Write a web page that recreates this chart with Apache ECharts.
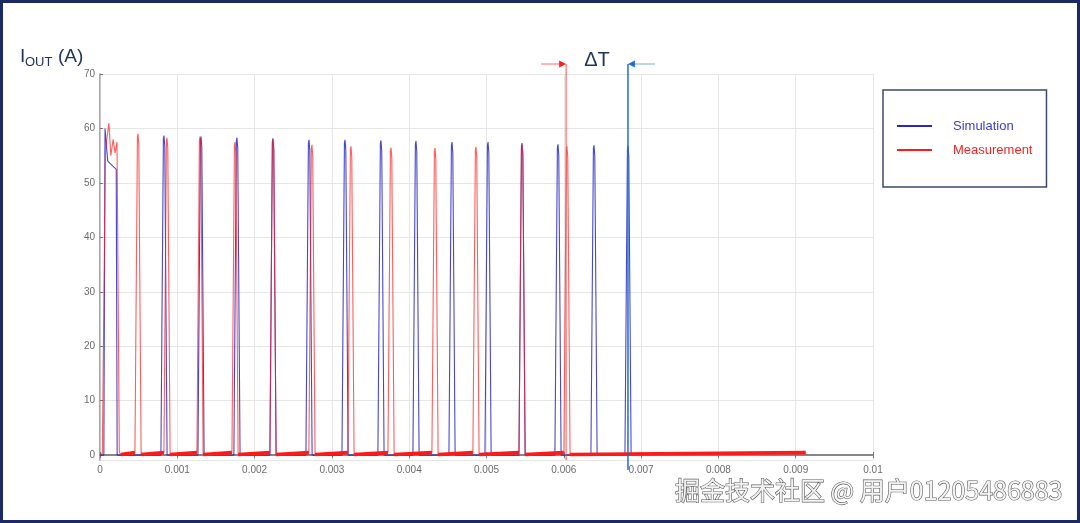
<!DOCTYPE html>
<html><head><meta charset="utf-8">
<script src="https://cdn.jsdelivr.net/npm/echarts@6/dist/echarts.min.js"></script>
<style>html,body{margin:0;padding:0;background:#fff}#c{width:1080px;height:523px}</style>
</head><body><div id="c"></div>
<script>
// ---- data ----
const xTickLabels = ['0','0.001','0.002','0.003','0.004','0.005','0.006','0.007','0.008','0.009','0.01'];
const yTickLabels = ['0','10','20','30','40','50','60','70'];

// start-up transient (time s, current A)
const simStartT = [0, 0.00005, 0.000065, 0.00008, 0.0001, 0.00021, 0.000222, 0.00026];
const simStartI = [0, 0, 60, 60, 54, 52.5, 0, 0];
const measStartT = [0, 0.00003, 0.00007, 0.000115, 0.00014, 0.00017, 0.000195, 0.00022, 0.00025, 0.00027];
const measStartI = [0.2, 0.3, 56, 61, 55, 58, 55.5, 57.5, 0.5, 0.1];

// switching pulses: peak times and peak currents
const simPulseT = [0.000828, 0.001307, 0.001772, 0.002238, 0.002704, 0.003170, 0.003635, 0.004088, 0.004554, 0.005020, 0.005460, 0.005925, 0.006391, 0.006831];
const simPulseI = [58.7, 58.5, 58.3, 58.2, 57.9, 57.9, 57.8, 57.7, 57.5, 57.5, 57.3, 57.1, 56.9, 56.8];
const measPulseT = [0.000492, 0.000867, 0.001294, 0.001747, 0.002238, 0.002742, 0.003247, 0.003765, 0.004334, 0.004864, 0.005460, 0.006041];
const measPulseI = [59.0, 58.3, 58.5, 57.5, 58.0, 57.0, 56.7, 56.5, 56.4, 56.6, 57.0, 56.7];
const measBaseLow = [0.1, 0.45];   // measurement noise floor after / before a pulse
const measEndT = 0.00913;
const measEndI = 0.45;

const deltaTMarks = [0.00603, 0.00683];  // measurement edge, simulation edge

// ---- build series ----
const HW = 0.00004; // pulse half width at base
function pulsePts(t, p, b0, b1) {
  return [[t - HW, b0], [t - HW * 0.2, p - 0.6], [t, p], [t + HW * 0.25, p - 2], [t + HW, b1]];
}
const simData = simStartT.map((t, i) => [t, simStartI[i]]);
simPulseT.forEach((t, i) => simData.push(...pulsePts(t, simPulseI[i], 0, 0)));

const measData = measStartT.map((t, i) => [t, measStartI[i]]);
const measBase = [];
let prevEnd = measStartT[measStartT.length - 1];
measPulseT.forEach((t, i) => {
  measBase.push([prevEnd, measBaseLow[0]], [t - HW, measBaseLow[1]], [null, null]);
  measData.push(...pulsePts(t, measPulseI[i], measBaseLow[1], measBaseLow[0]));
  prevEnd = t + HW;
});
measData.push([measEndT, measEndI]);
measBase.push([prevEnd, measBaseLow[0]], [measEndT, measEndI]);

const BLUE = '#2727c8', RED = '#ff1a1a';
const chart = echarts.init(document.getElementById('c'));
const yFmt = v => { const s = String(Math.round(v)); return (Math.abs(v - Math.round(v)) < 1e-6 && yTickLabels.includes(s)) ? s : ''; };
const xFmt = v => { const k = Math.round(v / 0.001); return Math.abs(v - k * 0.001) < 1e-9 ? (xTickLabels[k] || '') : ''; };
const lblStyle = { color: '#6b6b6b', fontSize: 10, fontFamily: 'Liberation Sans, Arial, sans-serif' };

chart.setOption({
  animation: false,
  backgroundColor: '#fff',
  grid: { left: 100, right: 207, top: 74, bottom: 63 },
  legend: {
    orient: 'vertical', left: 883, top: 90,
    padding: [29, 14, 30, 14], itemGap: 10,
    itemWidth: 35, itemHeight: 2, icon: 'rect',
    borderColor: '#3d4b6b', borderWidth: 1.5, backgroundColor: '#fff',
    textStyle: { fontSize: 13, lineHeight: 14, padding: [0, 0, 0, 16], fontFamily: 'Liberation Sans, Arial, sans-serif' },
    data: [
      { name: 'Simulation', textStyle: { color: '#3d3dcc' } },
      { name: 'Measurement', textStyle: { color: '#f02525' } }
    ]
  },
  xAxis: [
    { type: 'value', min: 0, max: 0.01, interval: 0.001, position: 'bottom',
      axisLine: { lineStyle: { color: '#9a9a9a', width: 1.5 } },
      axisTick: { inside: true, length: 3, lineStyle: { color: '#777' } },
      axisLabel: Object.assign({ formatter: xFmt, margin: 5 }, lblStyle),
      splitLine: { show: true, lineStyle: { color: '#e6e6e6' } } },
    { type: 'value', min: 0, max: 0.01, interval: 0.001, position: 'top',
      axisLine: { show: true, lineStyle: { color: '#7a7a7a', width: 1.5 } },
      axisTick: { show: true, inside: true, length: 3, lineStyle: { color: '#777' } },
      axisLabel: { show: false }, splitLine: { show: false } }
  ],
  yAxis: [
    { type: 'value', min: -0.9, max: 70, splitNumber: 7, position: 'left',
      axisLine: { show: true, lineStyle: { color: '#8a8a8a', width: 1.5 } },
      axisTick: { show: true, inside: true, length: 3, lineStyle: { color: '#777' } },
      axisLabel: Object.assign({ formatter: yFmt, showMinLabel: false, margin: 5 }, lblStyle),
      splitLine: { show: true, lineStyle: { color: '#e6e6e6' } } },
    { type: 'value', min: -0.9, max: 70, splitNumber: 7, position: 'right',
      axisLine: { show: true, lineStyle: { color: '#c8c8c8' } },
      axisTick: { show: false }, axisLabel: { show: false }, splitLine: { show: false } }
  ],
  series: [
    { name: 'Simulation', type: 'line', data: simData, symbol: 'none', color: BLUE,
      lineStyle: { width: 1.1, color: BLUE, opacity: 0.85 }, z: 3 },
    { name: 'Measurement', type: 'line', data: measData, symbol: 'none', color: RED,
      lineStyle: { width: 1.1, color: RED, opacity: 0.7 }, z: 4 },
    { name: 'Measurement', type: 'line', data: measBase, symbol: 'none', color: RED, connectNulls: false,
      lineStyle: { width: 3.6, color: RED }, z: 5, legendHoverLink: false }
  ]
});

function drawAnnotations() {
  const xr = chart.convertToPixel({ xAxisIndex: 0 }, deltaTMarks[0]);
  const xb = chart.convertToPixel({ xAxisIndex: 0 }, deltaTMarks[1]);
  const y0 = chart.convertToPixel({ yAxisIndex: 0 }, 0);
  const yArrow = 64;
  const ff = 'Liberation Sans, Arial, sans-serif';
  chart.setOption({ graphic: [
    { type: 'rect', shape: { x: 1.5, y: 1.5, width: 1077, height: 520 }, style: { fill: 'none', stroke: '#1b2a62', lineWidth: 3 }, z: 100 },
    { type: 'text', left: 20, top: 47, style: { text: 'I', fontSize: 19, fill: '#233559', fontFamily: ff } },
    { type: 'text', left: 25, top: 56, style: { text: 'OUT', fontSize: 13, fill: '#233559', fontFamily: ff } },
    { type: 'text', left: 58, top: 47, style: { text: '(A)', fontSize: 19, fill: '#233559', fontFamily: ff } },
    { type: 'line', shape: { x1: xr, y1: yArrow, x2: xr, y2: y0 + 5 }, style: { stroke: 'rgba(255,70,70,0.65)', lineWidth: 1.5 }, z: 50 },
    { type: 'line', shape: { x1: xb, y1: yArrow, x2: xb, y2: y0 + 15 }, style: { stroke: '#1f6fc8', lineWidth: 1.5 }, z: 50 },
    { type: 'line', shape: { x1: xr - 25, y1: yArrow, x2: xr - 6, y2: yArrow }, style: { stroke: '#ff8a8a', lineWidth: 1.3 }, z: 50 },
    { type: 'polygon', shape: { points: [[xr, yArrow], [xr - 7, yArrow - 3.5], [xr - 7, yArrow + 3.5]] }, style: { fill: '#ff1f1f' }, z: 50 },
    { type: 'line', shape: { x1: xb + 6, y1: yArrow, x2: xb + 27, y2: yArrow }, style: { stroke: '#93c0ea', lineWidth: 1.3 }, z: 50 },
    { type: 'polygon', shape: { points: [[xb, yArrow], [xb + 7, yArrow - 3.5], [xb + 7, yArrow + 3.5]] }, style: { fill: '#1f6fc8' }, z: 50 },
    { type: 'text', x: (xr + xb) / 2, y: 60, style: { text: 'ΔT', fontSize: 20, fill: '#233559', align: 'center', verticalAlign: 'middle', fontFamily: ff }, z: 50 },
    { type: 'text', right: 17, top: 477, style: { text: '掘金技术社区 @ 用户01205486883', fontSize: 25, fill: '#f2f2f2', stroke: '#5a5a5a', lineWidth: 1.2, fontFamily: 'Noto Sans CJK SC, sans-serif', shadowColor: 'rgba(0,0,0,0.35)', shadowOffsetX: 1, shadowOffsetY: 1, shadowBlur: 1 }, z: 100 }
  ] });
}
drawAnnotations();
</script>
</body></html>
